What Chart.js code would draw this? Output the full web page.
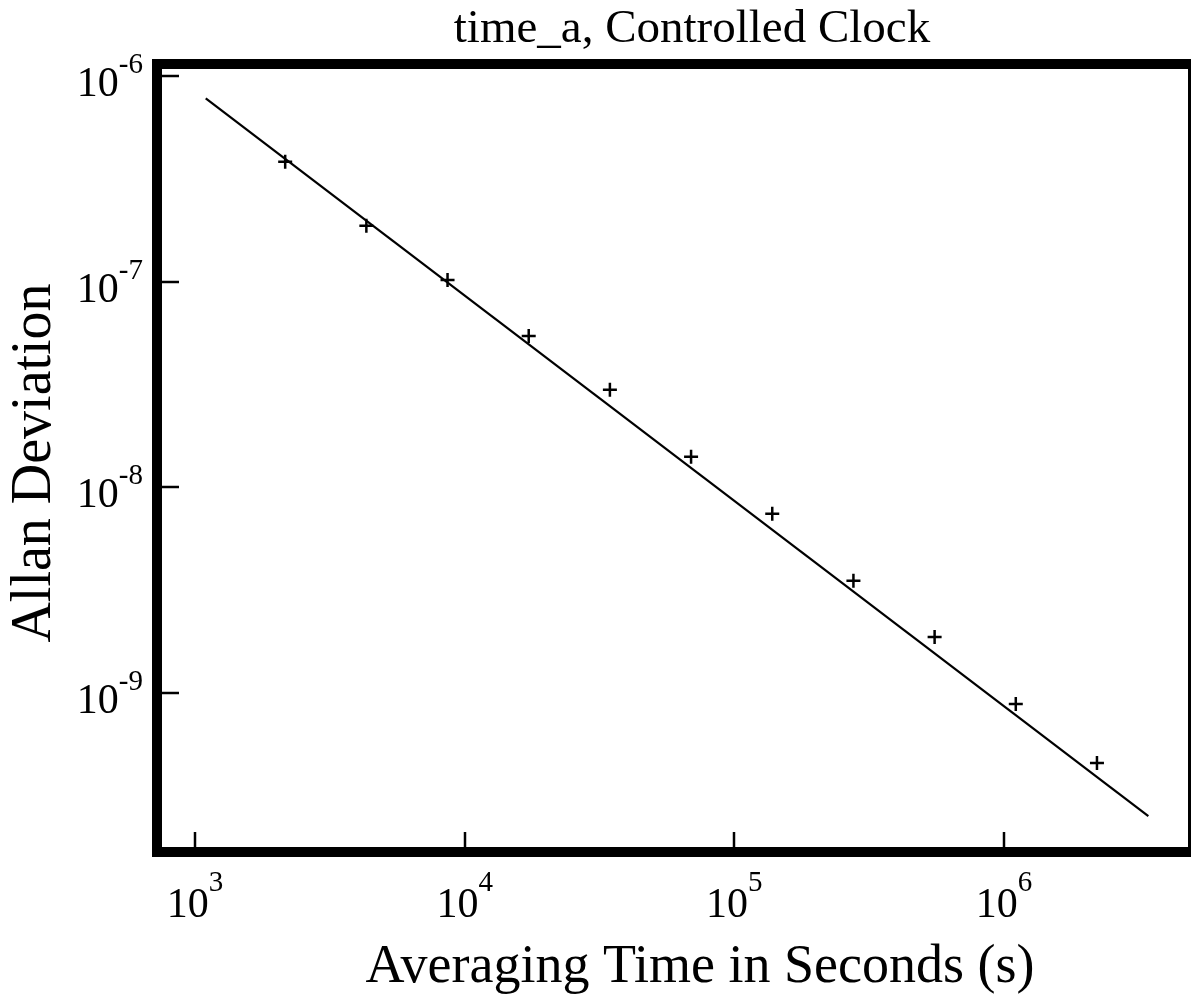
<!DOCTYPE html>
<html>
<head>
<meta charset="utf-8">
<title>time_a, Controlled Clock</title>
<script src="https://cdn.jsdelivr.net/npm/chart.js@4.4.1/dist/chart.umd.min.js"></script>
<style>
    html, body { margin: 0; padding: 0; background: #fff; overflow: hidden; }
    #wrap { width: 1191px; height: 995px; position: relative; }
</style>
</head>
<body>
<div id="wrap"><canvas id="adevChart"></canvas></div>
<script>
// averaging times (s) and measured Allan deviation
const tau = [2160, 4320, 8640, 17280, 34560, 69120, 138240, 276480, 552960, 1105920, 2211840];
const adev = [3.83e-7, 1.87e-7, 1.02e-7, 5.44e-8, 2.98e-8, 1.41e-8, 7.43e-9, 3.51e-9, 1.87e-9, 8.85e-10, 4.57e-10];

// fitted line end points
const fitTau = [1096, 3.43e6];
const fitAdev = [7.79e-7, 2.52e-10];

// decade ticks
const xTicks = [1e3, 1e4, 1e5, 1e6];
const xTickExp = ['3', '4', '5', '6'];
const yTicks = [1e-6, 1e-7, 1e-8, 1e-9];
const yTickExp = ['-6', '-7', '-8', '-9'];

const titleText = 'time_a, Controlled Clock';
const xTitle = 'Averaging Time in Seconds (s)';
const yTitle = 'Allan Deviation';

const SERIF = '"Liberation Serif", "DejaVu Serif", serif';

// draws the heavy frame, inward ticks, 10^n labels and titles
const framePlugin = {
    id: 'frame',
    afterDraw(chart) {
        const ctx = chart.ctx;
        const area = chart.chartArea;
        const xs = chart.scales.x;
        const ys = chart.scales.y;
        ctx.save();
        ctx.fillStyle = '#000';
        ctx.strokeStyle = '#000';

        // frame
        ctx.fillRect(area.left - 10, area.top - 10, area.right - area.left + 10, 10);
        ctx.fillRect(area.left - 10, area.top - 10, 10, area.bottom - area.top + 20);
        ctx.fillRect(area.left - 10, area.bottom, area.right - area.left + 10, 10);
        ctx.fillRect(area.right, area.top - 10, 3, area.bottom - area.top + 20);

        // ticks
        ctx.lineWidth = 2.5;
        xTicks.forEach(v => {
            const px = Math.round(xs.getPixelForValue(v));
            ctx.beginPath();
            ctx.moveTo(px, area.bottom);
            ctx.lineTo(px, area.bottom - 15);
            ctx.stroke();
        });
        yTicks.forEach(v => {
            const py = Math.round(ys.getPixelForValue(v));
            ctx.beginPath();
            ctx.moveTo(area.left, py);
            ctx.lineTo(area.left + 17, py);
            ctx.stroke();
        });

        // tick labels
        ctx.textBaseline = 'alphabetic';
        ctx.textAlign = 'left';
        xTicks.forEach((v, i) => {
            const px = xs.getPixelForValue(v);
            ctx.font = '42px ' + SERIF;
            const w1 = ctx.measureText('10').width;
            ctx.font = '29px ' + SERIF;
            const w2 = ctx.measureText(xTickExp[i]).width;
            const start = px - (w1 + w2) / 2;
            ctx.font = '42px ' + SERIF;
            ctx.fillText('10', start, 917);
            ctx.font = '29px ' + SERIF;
            ctx.fillText(xTickExp[i], start + w1, 891);
        });
        yTicks.forEach((v, i) => {
            const py = ys.getPixelForValue(v);
            ctx.font = '29px ' + SERIF;
            const w2 = ctx.measureText(yTickExp[i]).width;
            ctx.font = '42px ' + SERIF;
            const w1 = ctx.measureText('10').width;
            const start = 143 - w1 - w2;
            ctx.fillText('10', start, py + 20);
            ctx.font = '29px ' + SERIF;
            ctx.fillText(yTickExp[i], start + w1, py - 3);
        });

        // titles
        ctx.textAlign = 'center';
        ctx.font = '47px ' + SERIF;
        ctx.fillText(titleText, 692, 42);
        ctx.font = '54px ' + SERIF;
        ctx.fillText(xTitle, 700, 982);
        ctx.save();
        ctx.translate(50, 463);
        ctx.rotate(-Math.PI / 2);
        ctx.font = '56px ' + SERIF;
        ctx.fillText(yTitle, 0, 0);
        ctx.restore();

        ctx.restore();
    }
};

function createAdevChart() {
    const ctx = document.getElementById('adevChart').getContext('2d');
    new Chart(ctx, {
        type: 'scatter',
        data: {
            datasets: [{
                label: 'Fit',
                data: fitTau.map((t, i) => ({ x: t, y: fitAdev[i] })),
                showLine: true,
                borderColor: '#000',
                borderWidth: 2.2,
                pointRadius: 0,
                order: 2
            }, {
                label: 'Allan Deviation',
                data: tau.map((t, i) => ({ x: t, y: adev[i] })),
                pointStyle: 'cross',
                pointRadius: 7,
                borderColor: '#000',
                backgroundColor: '#000',
                pointBorderWidth: 2.5,
                order: 1
            }]
        },
        options: {
            responsive: true,
            maintainAspectRatio: false,
            animation: false,
            layout: {
                autoPadding: false,
                padding: { left: 162, right: 3, top: 69, bottom: 148 }
            },
            plugins: {
                legend: { display: false },
                tooltip: { enabled: false },
                title: { display: false }
            },
            scales: {
                x: {
                    type: 'logarithmic',
                    min: 754.5,
                    max: 4.812e6,
                    display: false
                },
                y: {
                    type: 'logarithmic',
                    min: 1.7833e-10,
                    max: 1.0815e-6,
                    display: false
                }
            }
        },
        plugins: [framePlugin]
    });
}

document.addEventListener('DOMContentLoaded', createAdevChart);
</script>
</body>
</html>
